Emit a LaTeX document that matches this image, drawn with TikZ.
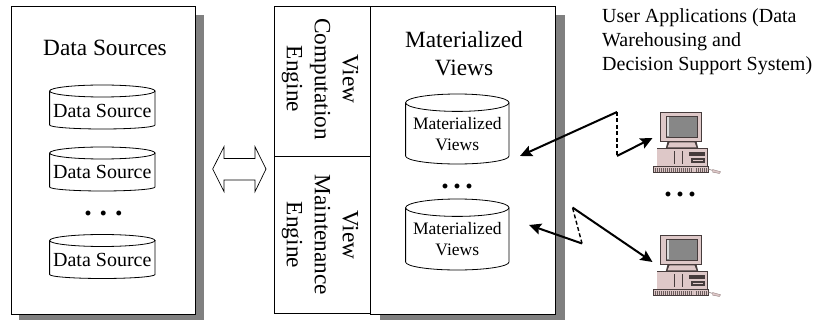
\documentclass[tikz,border=0pt]{standalone}
\usepackage{fontspec}
\setmainfont{Liberation Serif}
\usetikzlibrary{arrows.meta}
\newcommand{\fsBig}{\fontsize{23.3}{28}\selectfont}
\newcommand{\fsMid}{\fontsize{20}{24}\selectfont}
\newcommand{\fsSmall}{\fontsize{17.5}{21}\selectfont}
\definecolor{shadowgray}{RGB}{128,128,128}
\definecolor{pcpink}{RGB}{222,200,200}
\definecolor{pcdark}{RGB}{70,60,60}
\definecolor{pcscreen}{RGB}{135,135,135}
\definecolor{pckey}{RGB}{150,130,130}
% name, centre x, top, bottom, x radius, y radius of the lid, sag of the floor
\newcommand{\dbcyl}[7]{%
  \node[inner sep=0pt,minimum width=2*#5 pt,minimum height=#4-#3 pt] (#1) at ({#2},{(#3+#4)/2}) {};
  \draw[dbline] (#2-#5,#3+#6) -- (#2-#5,#4-#7)
    .. controls (#2-#5,#4-#7+0.5523*#7) and (#2-0.5523*#5,#4) .. (#2,#4)
    .. controls (#2+0.5523*#5,#4) and (#2+#5,#4-#7+0.5523*#7) .. (#2+#5,#4-#7)
    -- (#2+#5,#3+#6);
  \draw[dbline] (#2,#3+#6) ellipse [x radius=#5,y radius=#6];
}
\tikzset{
  x=1pt,y=-1pt,
  panel/.style={draw=black,fill=white,line width=0.9pt},
  title/.style={font=\fsBig,align=center,inner sep=0pt},
  vertlabel/.style={font=\fsBig,align=center,inner sep=0pt,rotate=-90},
  dbline/.style={draw=black,fill=white,line width=0.8pt},
  dslabel/.style={font=\fsMid,inner sep=0pt},
  mvlabel/.style={font=\fsSmall,align=center,inner sep=0pt},
  dotlabel/.style={font=\fontsize{30}{30}\selectfont\bfseries,inner sep=0pt,anchor=base},
  link/.style={line width=2pt,draw=black},
  linkend/.style={link,-{Stealth[length=12pt,width=11pt,inset=2pt]}},
  linkdash/.style={line width=1.4pt,draw=black,dash pattern=on 4pt off 2.5pt},
  blockarrow/.style={draw=black,fill=white,line width=0.7pt,line join=miter},
  pics/computer/.style={code={
    % monitor
    \fill[pcdark] (-0.5,-0.5) rectangle (41.5,29.5);
    \fill[pcpink] (0.3,0.3) rectangle (40.7,28.7);
    \fill[pcdark] (5,3.4) rectangle (37.5,25.5);
    \fill[pcscreen] (6,4.4) rectangle (36.5,24.5);
    \fill[white!70!pcscreen] (6.6,5) rectangle (8.6,23.5);
    % neck
    \fill[pcdark] (7,29) -- (36,29) -- (38,37) -- (5,37) -- cycle;
    \fill[pcpink] (9,30) -- (34,30) -- (36,35) -- (7,35) -- cycle;
    % base
    \fill[pcdark] (-4,36) rectangle (47,54);
    \fill[pcpink] (-3.4,37) rectangle (46.4,53.4);
    \draw[pcdark,line width=0.5pt] (14,39) -- (14,52);
    \draw[pcdark,line width=0.5pt] (22,39) -- (22,52);
    \fill[pcdark] (28,40) rectangle (44,44);
    \fill[pcdark] (30,46) rectangle (44,51);
    \fill[pcpink] (32,47.3) rectangle (42,48.6);
    % keyboard
    \fill[pcdark] (-8,54) rectangle (48,61);
    \fill[pcpink] (-7,55) rectangle (47,60);
    \draw[pckey!70!black,line width=3.5pt,dash pattern=on 1.2pt off 0.8pt] (-6,57.5) -- (32,57.5);
    \draw[pckey!70!black,line width=3.5pt,dash pattern=on 1.2pt off 0.8pt] (35,57.5) -- (46,57.5);
    % mouse
    \draw[pckey,line width=0.6pt] (48,56.5) -- (52,58);
    \fill[pcpink,draw=pckey,line width=0.4pt] (52,57) -- (60,59.2) -- (59,61) -- (52,59.6) -- cycle;
  }},
}
\begin{document}
\begin{tikzpicture}
\useasboundingbox (0,0) rectangle (817,320);
\fill[white] (0,0) rectangle (817,320);
% shadows
\fill[shadowgray] (19,15) rectangle (204,321);
\fill[shadowgray] (380,15) rectangle (565,321);
% left panel
\node[panel,minimum width=184.5pt,minimum height=308pt,inner sep=0pt] (srcpanel) at (103.2,160) {};
\node[title] (srctitle) at (105,48) {Data Sources};
\dbcyl{ds1}{102.3}{85}{129}{52.7}{6}{4}
\dbcyl{ds2}{102.3}{147}{191}{52.7}{6}{4}
\dbcyl{ds3}{102.3}{234.5}{278.5}{52.7}{6}{4}
\node[dslabel] (ds1t) at (102.3,111) {Data Source};
\node[dslabel] (ds2t) at (102.3,172) {Data Source};
\node[dslabel] (ds3t) at (102.3,259.5) {Data Source};
\node[dotlabel] (srcdots) at (103.5,216) {.\hspace{8pt}.\hspace{8pt}.};
% central panel
\node[panel,minimum width=184.5pt,minimum height=308pt,inner sep=0pt] (mvpanel) at (463,160) {};
\node[panel,minimum width=96.3pt,minimum height=150pt,inner sep=0pt] (vcbox) at (322.6,81.5) {};
\node[panel,minimum width=96.3pt,minimum height=157.5pt,inner sep=0pt] (vmbox) at (322.6,235.2) {};
\node[vertlabel] (vctext) at (320,79) {View\\Computation\\Engine};
\node[vertlabel] (vmtext) at (320,235) {View\\Maintenance\\Engine};
\node[title] (mvtitle) at (464,54) {Materialized\\Views};
\dbcyl{mv1}{457.3}{94}{164}{51.7}{8.7}{8}
\dbcyl{mv2}{457.3}{199}{270}{51.7}{8.7}{8}
\node[mvlabel] (mv1t) at (457.3,134) {Materialized\\Views};
\node[mvlabel] (mv2t) at (457.3,239) {Materialized\\Views};
\node[dotlabel] (mvdots) at (457,189) {.\hspace{4.5pt}.\hspace{4.5pt}.};
% exchange arrow
\draw[blockarrow] (212.7,169) -- (224,146.7) -- (224,158.5) -- (255,158.5) -- (255,146.7)
  -- (266,169) -- (255,191.7) -- (255,180) -- (224,180) -- (224,191.7) -- cycle;
% computers
\pic (pcA) at (660.5,112.5) {computer};
\pic (pcB) at (660.5,235.5) {computer};
\node[dotlabel] (pcdots) at (680,197) {.\hspace{4.5pt}.\hspace{4.5pt}.};
% caption
\node[font=\fsMid,align=left,inner sep=0pt,anchor=north west] (apps) at (602,8)
  {User Applications (Data\\Warehousing and\\Decision Support System)};
% links
\coordinate (a1) at (520,156);
\coordinate (a2) at (617,112);
\coordinate (a3) at (617,156);
\coordinate (a4) at (652.5,138);
\coordinate (b1) at (529,225);
\coordinate (b2) at (582,243.5);
\coordinate (b3) at (572.5,207.5);
\coordinate (b4) at (652.5,262);
\draw[linkend] (a2) -- (a1);
\draw[linkdash] (a2) -- (a3);
\draw[linkend] (a3) -- (a4);
\draw[linkend] (b2) -- (b1);
\draw[linkdash] (b2) -- (b3);
\draw[linkend] (b3) -- (b4);
\end{tikzpicture}
\end{document}
